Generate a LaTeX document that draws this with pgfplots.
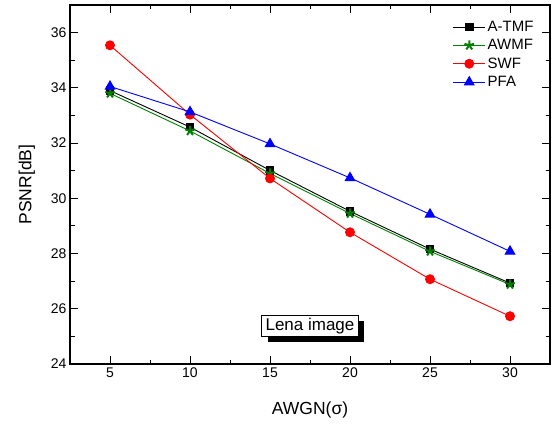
\documentclass[border=0pt]{standalone}
\usepackage{fontspec}
\setmainfont{Liberation Sans}
\usepackage{pgfplots}
\pgfplotsset{compat=1.18}
\usetikzlibrary{shadows}
\definecolor{mygreen}{RGB}{0,128,0}
\begin{document}
\begin{tikzpicture}[x=1pt,y=1pt]
\useasboundingbox (0,0) rectangle (553,423);
\begin{axis}[
  at={(70pt,59pt)}, anchor=south west,
  scale only axis, width=480pt, height=359pt,
  xmin=2.5, xmax=32.5, ymin=24, ymax=37,
  xtick={5,10,...,30}, ytick={24,26,...,36},
  minor x tick num=1, minor y tick num=1,
  tick align=inside, major tick length=8pt, minor tick length=4.5pt,
  tick style={black, line width=1pt},
  axis line style={line width=1.3pt},
  ticklabel style={font=\fontsize{14}{16}\selectfont},
  /pgf/number format/assume math mode=true,
  xlabel={AWGN(σ)}, ylabel={PSNR[dB]},
  label style={font=\fontsize{17.5}{19}\selectfont},
  xlabel style={yshift=-18pt},
  ylabel style={yshift=9pt},
  legend cell align=left,
  legend style={draw=none, fill=none, font=\fontsize{15}{17.5}\selectfont,
    at={(0.795,0.964)}, anchor=north west, row sep=2.5pt, inner sep=1pt},
  legend image code/.code={\draw[mark repeat=2,mark phase=2,#1] plot coordinates {(0pt,0pt)(16pt,0pt)(32pt,0pt)};},
]
\addplot[black, line width=0.9pt, mark=square*, mark size=3.8pt, mark options={solid}] coordinates {
(5,33.9) (10,32.58) (15,31.01) (20,29.53) (25,28.16) (30,26.93)};
\addlegendentry{A-TMF}
\addplot[mygreen, line width=0.9pt, mark=star, mark size=5pt, mark options={line width=2pt}] coordinates {
(5,33.8) (10,32.44) (15,30.9) (20,29.45) (25,28.08) (30,26.88)};
\addlegendentry{AWMF}
\addplot[red, line width=0.9pt, mark=*, mark size=4.5pt] coordinates {
(5,35.54) (10,33.03) (15,30.72) (20,28.77) (25,27.07) (30,25.73)};
\addlegendentry{SWF}
\addplot[blue, line width=0.9pt, mark=triangle*, mark size=5.5pt] coordinates {
(5,34.05) (10,33.13) (15,31.97) (20,30.74) (25,29.42) (30,28.08)};
\addlegendentry{PFA}
\node[draw=black, fill=white, line width=0.8pt, inner xsep=4pt, inner ysep=2.5pt,
  font=\fontsize{17}{19}\selectfont,
  drop shadow={shadow xshift=6pt, shadow yshift=-5pt, fill=black, opacity=1}]
  at (axis cs:17.5,25.37) {Lena image};
\end{axis}
\end{tikzpicture}
\end{document}
